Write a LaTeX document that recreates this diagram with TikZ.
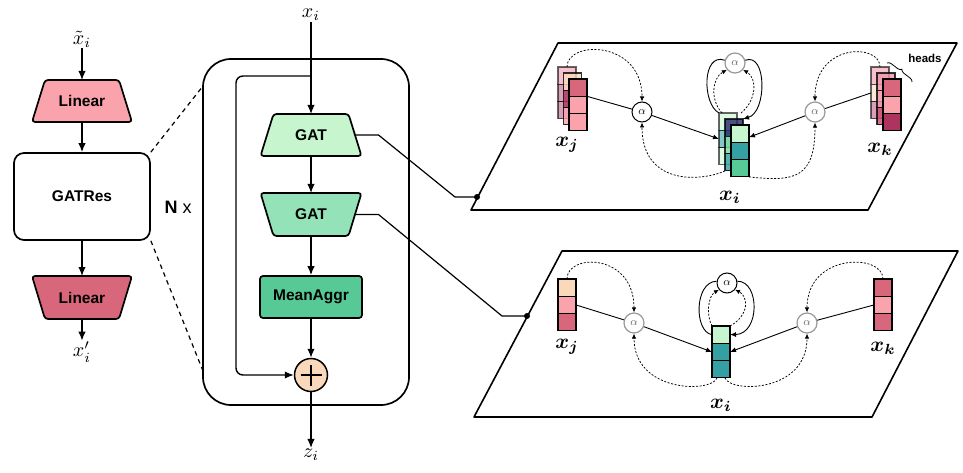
\documentclass[tikz,border=0pt]{standalone}
\usepackage{fontspec}
\usepackage{bm}
\usepackage{graphicx}
\usetikzlibrary{arrows.meta,decorations.pathreplacing,backgrounds,calc}
\newfontfamily\lblfont{Liberation Sans}

\definecolor{linA}{RGB}{250,163,172}
\definecolor{linB}{RGB}{217,103,124}
\definecolor{gatA}{RGB}{199,245,205}
\definecolor{gatB}{RGB}{148,226,184}
\definecolor{aggC}{RGB}{87,201,151}
\definecolor{sumC}{RGB}{250,217,187}
\definecolor{tealC}{RGB}{52,160,164}
\definecolor{navyC}{RGB}{33,40,110}
\definecolor{magC}{RGB}{172,52,95}
\definecolor{peachC}{RGB}{250,217,187}
\definecolor{roseC}{RGB}{240,150,172}
\definecolor{mauveC}{RGB}{190,95,135}
\definecolor{plumC}{RGB}{205,75,110}
\definecolor{mintC}{RGB}{125,222,160}

% math labels at enlarged size
\newcommand\mlbl[1]{\scalebox{2}{$#1$}}
\newcommand\plbl[1]{\scalebox{2.1}{$\bm{#1}$}}
\newcommand\alphalbl{\scalebox{1.15}{$\alpha$}}

% one feature column: three stacked cells, named #1-1 .. #1-3
\newcommand\vcol[7]{%
  \node[cellbox,#7,fill=#4,anchor=north west] (#1-1) at (#2,#3) {};
  \node[cellbox,#7,fill=#5,anchor=north] (#1-2) at (#1-1.south) {};
  \node[cellbox,#7,fill=#6,anchor=north] (#1-3) at (#1-2.south) {};}

% trapezoid outline behind a text node: narrow top / narrow bottom
\newcommand\traptop[3]{%
  \begin{scope}[on background layer]
  \draw[boxline,fill=#3] ([xshift=#2]#1.north west) -- ([xshift=-#2]#1.north east)
     -- (#1.south east) -- (#1.south west) -- cycle;
  \end{scope}}
\newcommand\trapbot[3]{%
  \begin{scope}[on background layer]
  \draw[boxline,fill=#3] (#1.north west) -- (#1.north east)
     -- ([xshift=-#2]#1.south east) -- ([xshift=#2]#1.south west) -- cycle;
  \end{scope}}

\begin{document}
\begin{tikzpicture}[x=1pt,y=-1pt,
  boxline/.style={line width=1.7pt,rounded corners=3pt},
  tbox/.style={inner sep=0pt,outer sep=0pt,font=\lblfont\bfseries\fontsize{15.5}{17}\selectfont},
  ar/.style={line width=1.4pt,-{Latex[length=9pt,width=7.5pt]}},
  mlab/.style={inner sep=1pt},
  plab/.style={inner sep=1pt},
  cellbox/.style={draw,line width=1.1pt,minimum width=18pt,minimum height=17.3pt,inner sep=0pt,outer sep=0pt},
  faded/.style={opacity=0.6},
  half/.style={opacity=0.8},
  alp/.style={circle,draw,line width=1pt,fill=white,minimum size=20pt,inner sep=0pt},
  galp/.style={alp,draw=black!40,line width=1.2pt,text=black!60},
  link/.style={line width=0.9pt},
  plink/.style={link,-{Latex[length=6pt,width=5pt]}},
  dlink/.style={line width=0.75pt,dash pattern=on 2pt off 1.6pt,-{Latex[length=5pt,width=4.5pt]}},
  plane/.style={line width=1.6pt,line join=round},
  zoomline/.style={line width=1.2pt,dash pattern=on 4.5pt off 4pt},
  dotn/.style={circle,fill,inner sep=0pt,minimum size=6pt}]
\useasboundingbox (0,0) rectangle (963,473);

% ---------------- outer model ----------------
\node[mlab] (xt) at (82,39) {\mlbl{\tilde{x}_i}};
\node[tbox,minimum width=100pt,minimum height=42pt] (lin1) at (82,101) {Linear};
\traptop{lin1}{13pt}{linA}
\node[tbox,draw,line width=1.7pt,rounded corners=10pt,fill=white,
      minimum width=136pt,minimum height=87pt,outer sep=0.85pt] (gres) at (82,196.5) {GATRes};
\node[tbox,minimum width=100pt,minimum height=43pt] (lin2) at (82,297.5) {Linear};
\trapbot{lin2}{13pt}{linB}
\node[mlab] (xo) at (82,352) {\mlbl{x'_i}};
\node[font=\lblfont\fontsize{18}{20}\selectfont] (nx) at (178,207) {\textbf{N} x};

\draw[ar] (xt) -- (lin1);
\draw[ar] (lin1) -- (gres);
\draw[ar] (gres) -- (lin2);
\draw[ar] (lin2) -- (xo);

% ---------------- GATRes block ----------------
\node[draw,line width=1.7pt,rounded corners=28pt,minimum width=206pt,minimum height=346pt,
      inner sep=0pt,outer sep=0pt] (outer) at (306,232) {};
\coordinate (zt) at ($(outer.north west)+(0,27)$);
\coordinate (zb) at ($(outer.south west)+(0,-34)$);
\draw[zoomline] (gres.north east) -- (zt);
\draw[zoomline] (gres.south east) -- (zb);

\node[mlab] (xi) at (311,15) {\mlbl{x_i}};
\node[tbox,minimum width=101pt,minimum height=42pt] (gat1) at (311,135) {GAT};
\traptop{gat1}{13pt}{gatA}
\node[tbox,minimum width=101pt,minimum height=43pt] (gat2) at (311,214.5) {GAT};
\trapbot{gat2}{13pt}{gatB}
\node[tbox,draw,line width=1.7pt,rounded corners=3pt,fill=aggC,minimum width=102pt,
      minimum height=42pt,outer sep=0.85pt] (agg) at (311,297) {MeanAggr};
\node[circle,draw,line width=1.5pt,fill=sumC,minimum size=33pt,inner sep=0pt,outer sep=0.75pt] (sum) at (311,375) {};
\draw[line width=1.3pt] ([xshift=-10.5pt]sum.center) -- ([xshift=10.5pt]sum.center)
                        ([yshift=-10.5pt]sum.center) -- ([yshift=10.5pt]sum.center);
\node[mlab] (zi) at (311,455) {\mlbl{z_i}};

\draw[ar] (xi) -- (gat1);
\draw[ar] (gat1) -- (gat2);
\draw[ar] (gat2) -- (agg);
\draw[ar] (agg) -- (sum);
\draw[ar] (sum) -- (zi);
\coordinate (sk) at (311,76);
\draw[ar,rounded corners=7pt] (sk) -- ++(-75,0) |- (sum.west);

% links from the GAT layers to their attention planes
\node[dotn] (d1) at (477,197) {};
\node[dotn] (d2) at (527,316) {};
\draw[line width=1.2pt] ([xshift=-7pt]gat1.east) -- ++(24,0) -- (455,197) -- (d1.center);
\draw[line width=1.2pt] ([xshift=-7pt]gat2.east) -- ++(24,0) -- (502,316) -- (d2.center);

% ---------------- multi-head attention plane ----------------
\draw[plane] (558,43) -- (957,43) -- (868,210) -- (471,210) -- cycle;

\vcol{jB}{558}{67}{roseC}{mauveC}{mauveC}{faded}
\vcol{jM}{563.5}{73}{peachC}{magC}{linA}{half}
\vcol{jF}{569}{79}{linB}{linA}{linA}{}
\vcol{kB}{871}{67}{roseC}{peachC}{mauveC}{faded}
\vcol{kM}{877}{73}{roseC}{roseC}{plumC}{half}
\vcol{kF}{883}{79}{linB}{linA}{magC}{}
\vcol{iB}{719}{113}{gatA}{tealC}{gatA}{faded}
\vcol{iM}{725}{119}{navyC}{mintC}{tealC}{half}
\vcol{iF}{731}{125}{gatA}{tealC}{aggC}{}

\node[alp] (aL) at (642,112) {\alphalbl};
\node[galp] (aT) at (735,63) {\alphalbl};
\node[galp] (aR) at (815,112) {\alphalbl};

\node[plab] (lj1) at (567,145) {\plbl{x_j}};
\node[plab] (li1) at (730,197) {\plbl{x_i}};
\node[plab] (lk1) at (880,149) {\plbl{x_k}};
\node[font=\lblfont\bfseries\fontsize{11.5}{13}\selectfont] (hd) at (925,58) {heads};
\draw[decorate,decoration={brace,amplitude=4pt},line width=0.8pt] (887,63) -- (912,82);

\draw[link] (jF-1.south east) -- (aL);
\draw[plink] (aL) -- (iB-2.west);
\draw[link] (kB-2.west) -- (aR);
\draw[plink] (aR) -- ([yshift=5pt]iF-1.south east);
\draw[dlink] (jB-1.north) .. controls (567,40) and (642,40) .. (aL.north);
\draw[dlink] (iM-3.south west) .. controls (700,182) and (642,185) .. (aL.south);
\draw[dlink] (iF-3.south east) .. controls (795,182) and (815,178) .. (aR.south);
\draw[dlink] (kB-1.north) .. controls (880,43) and (815,43) .. (aR.north);

\draw[link] (iB-1.north west) .. controls (702,104) and (702,52) .. (aT.165);
\draw[plink] (aT.15) .. controls (767,52) and (767,112) .. (iM-1.north east);
\draw[dlink] ([xshift=3pt]iB-1.north west) .. controls (710,100) and (712,78) .. (aT.220);
\draw[dlink] ([xshift=4pt]iB-1.north east) .. controls (757,100) and (757,78) .. (aT.320);

% ---------------- single-head attention plane ----------------
\draw[plane] (562,251) -- (958,251) -- (872,417) -- (474,417) -- cycle;

\vcol{bj}{558}{279}{peachC}{linA}{linB}{}
\vcol{bi}{712}{326}{gatA}{tealC}{tealC}{}
\vcol{bk}{874}{279}{linB}{linA}{linB}{}

\node[galp] (bL) at (634,323) {\alphalbl};
\node[alp] (bT) at (727,283) {\alphalbl};
\node[galp] (bR) at (807,323) {\alphalbl};

\node[plab] (lj2) at (567,347) {\plbl{x_j}};
\node[plab] (li2) at (721,405) {\plbl{x_i}};
\node[plab] (lk2) at (883,348) {\plbl{x_k}};

\draw[link] (bj-2.east) -- (bL);
\draw[plink] (bL) -- (bi-2.west);
\draw[link] (bk-2.west) -- (bR);
\draw[plink] (bR) -- (bi-2.east);
\draw[dlink] (bj-1.north) .. controls (567,253) and (634,253) .. (bL.north);
\draw[dlink] ([xshift=-4pt]bi-3.south) .. controls (712,393) and (634,393) .. (bL.south);
\draw[dlink] ([xshift=4pt]bi-3.south) .. controls (730,393) and (807,393) .. (bR.south);
\draw[dlink] (bk-1.north) .. controls (883,253) and (807,253) .. (bR.north);

\draw[link] (bi-1.west) .. controls (694,332) and (694,282) .. (bT.170);
\draw[plink] (bT.10) .. controls (760,281) and (760,334) .. (bi-1.east);
\draw[dlink] (bi-1.north west) .. controls (706,315) and (708,296) .. (bT.220);
\draw[dlink] (bi-1.north east) .. controls (750,315) and (748,296) .. (bT.320);
\end{tikzpicture}
\end{document}
